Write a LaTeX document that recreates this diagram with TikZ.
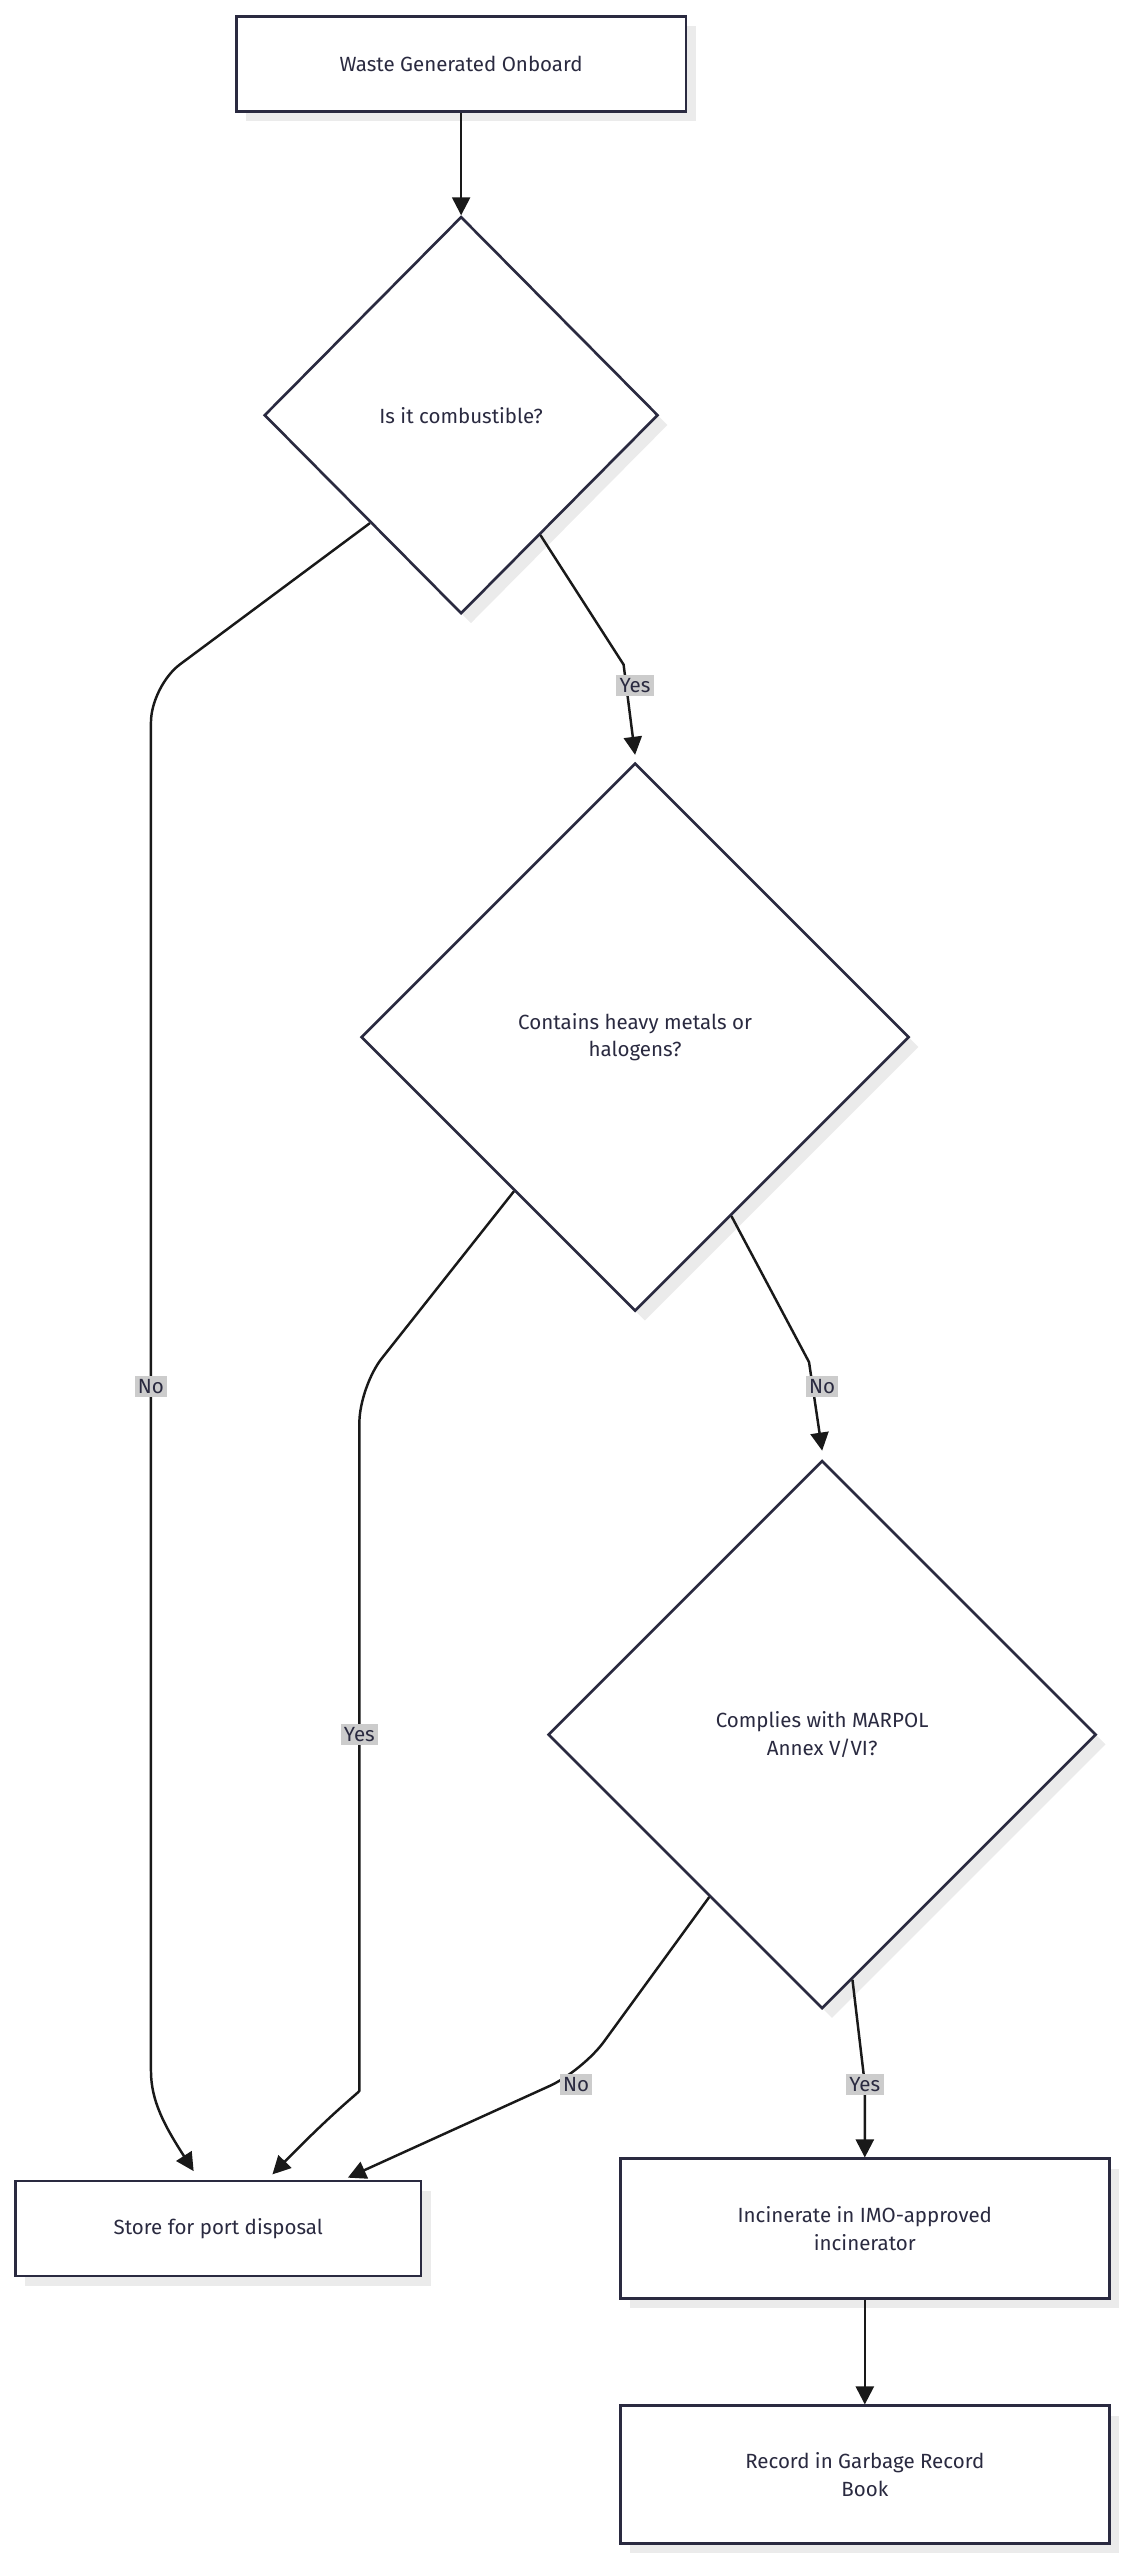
\documentclass[tikz,border=0pt]{standalone}
\usepackage{fontspec}
\setmainfont{Fira Sans}
\usetikzlibrary{shapes.geometric,shadows,arrows.meta,calc}
\definecolor{nd}{HTML}{2A2A40}
\tikzset{
  x=1pt,y=-1pt,
  base/.style={draw=nd,line width=1.6pt,fill=white,text=nd,font=\fontsize{12.5}{17}\selectfont,align=center,
    drop shadow={shadow xshift=6pt,shadow yshift=-6pt,fill=black!8,opacity=1}},
  boxn/.style={base,rectangle,inner sep=0},
  dia/.style={base,diamond,inner sep=0},
  edge/.style={draw=black!90,line width=1.5pt,-{Triangle[length=11pt,width=11pt]},rounded corners=22pt},
  lab/.style={fill=black!20,text=nd,font=\fontsize{12.5}{15}\selectfont,inner sep=2pt}
}
\begin{document}
\begin{tikzpicture}
\useasboundingbox (0,0) rectangle (685,1560);
\node[boxn,minimum width=274,minimum height=58] (a) at (281,39) {Waste Generated Onboard};
\node[dia,minimum width=240,minimum height=242] (d1) at (281,253) {Is it combustible?};
\node[dia,minimum width=334,minimum height=334] (d2) at (387,632) {Contains heavy metals or\\halogens?};
\node[dia,minimum width=334,minimum height=334] (d3) at (501,1057) {Complies with MARPOL\\Annex V/VI?};
\node[boxn,minimum width=247,minimum height=58] (s) at (133,1358) {Store for port disposal};
\node[boxn,minimum width=298,minimum height=85] (i) at (527,1358) {Incinerate in IMO-approved\\incinerator};
\node[boxn,minimum width=298,minimum height=84] (r) at (527,1508) {Record in Garbage Record\\Book};

\draw[edge] (a) -- (d1);
\draw[edge,rounded corners=0] ($(d1.east)!0.6!(d1.south)$) -- (380,405) -- (387,460);
\node[lab] at (387,418) {Yes};
\draw[edge] ($(d1.west)!0.54!(d1.south)$) -- (92,418) -- (92,1240) .. controls (92,1280) and (100,1295) .. (118,1323);
\node[lab] at (92,845) {No};
\draw[edge] ($(d2.west)!0.56!(d2.south)$) -- (219,845) -- (219,1252) .. controls (219,1275) and (205,1285) .. (166,1325);
\node[lab] at (219,1057) {Yes};
\draw[edge,rounded corners=0] ($(d2.east)!0.65!(d2.south)$) -- (493,830) -- (501,884);
\node[lab] at (501,845) {No};
\draw[edge] ($(d3.west)!0.59!(d3.south)$) -- (355,1262) -- (212,1327);
\node[lab] at (351,1270) {No};
\draw[edge,rounded corners=0] ($(d3.east)!0.89!(d3.south)$) -- (527,1270) -- (i.north);
\node[lab] at (527,1270) {Yes};
\draw[edge] (i) -- (r);
\end{tikzpicture}
\end{document}
